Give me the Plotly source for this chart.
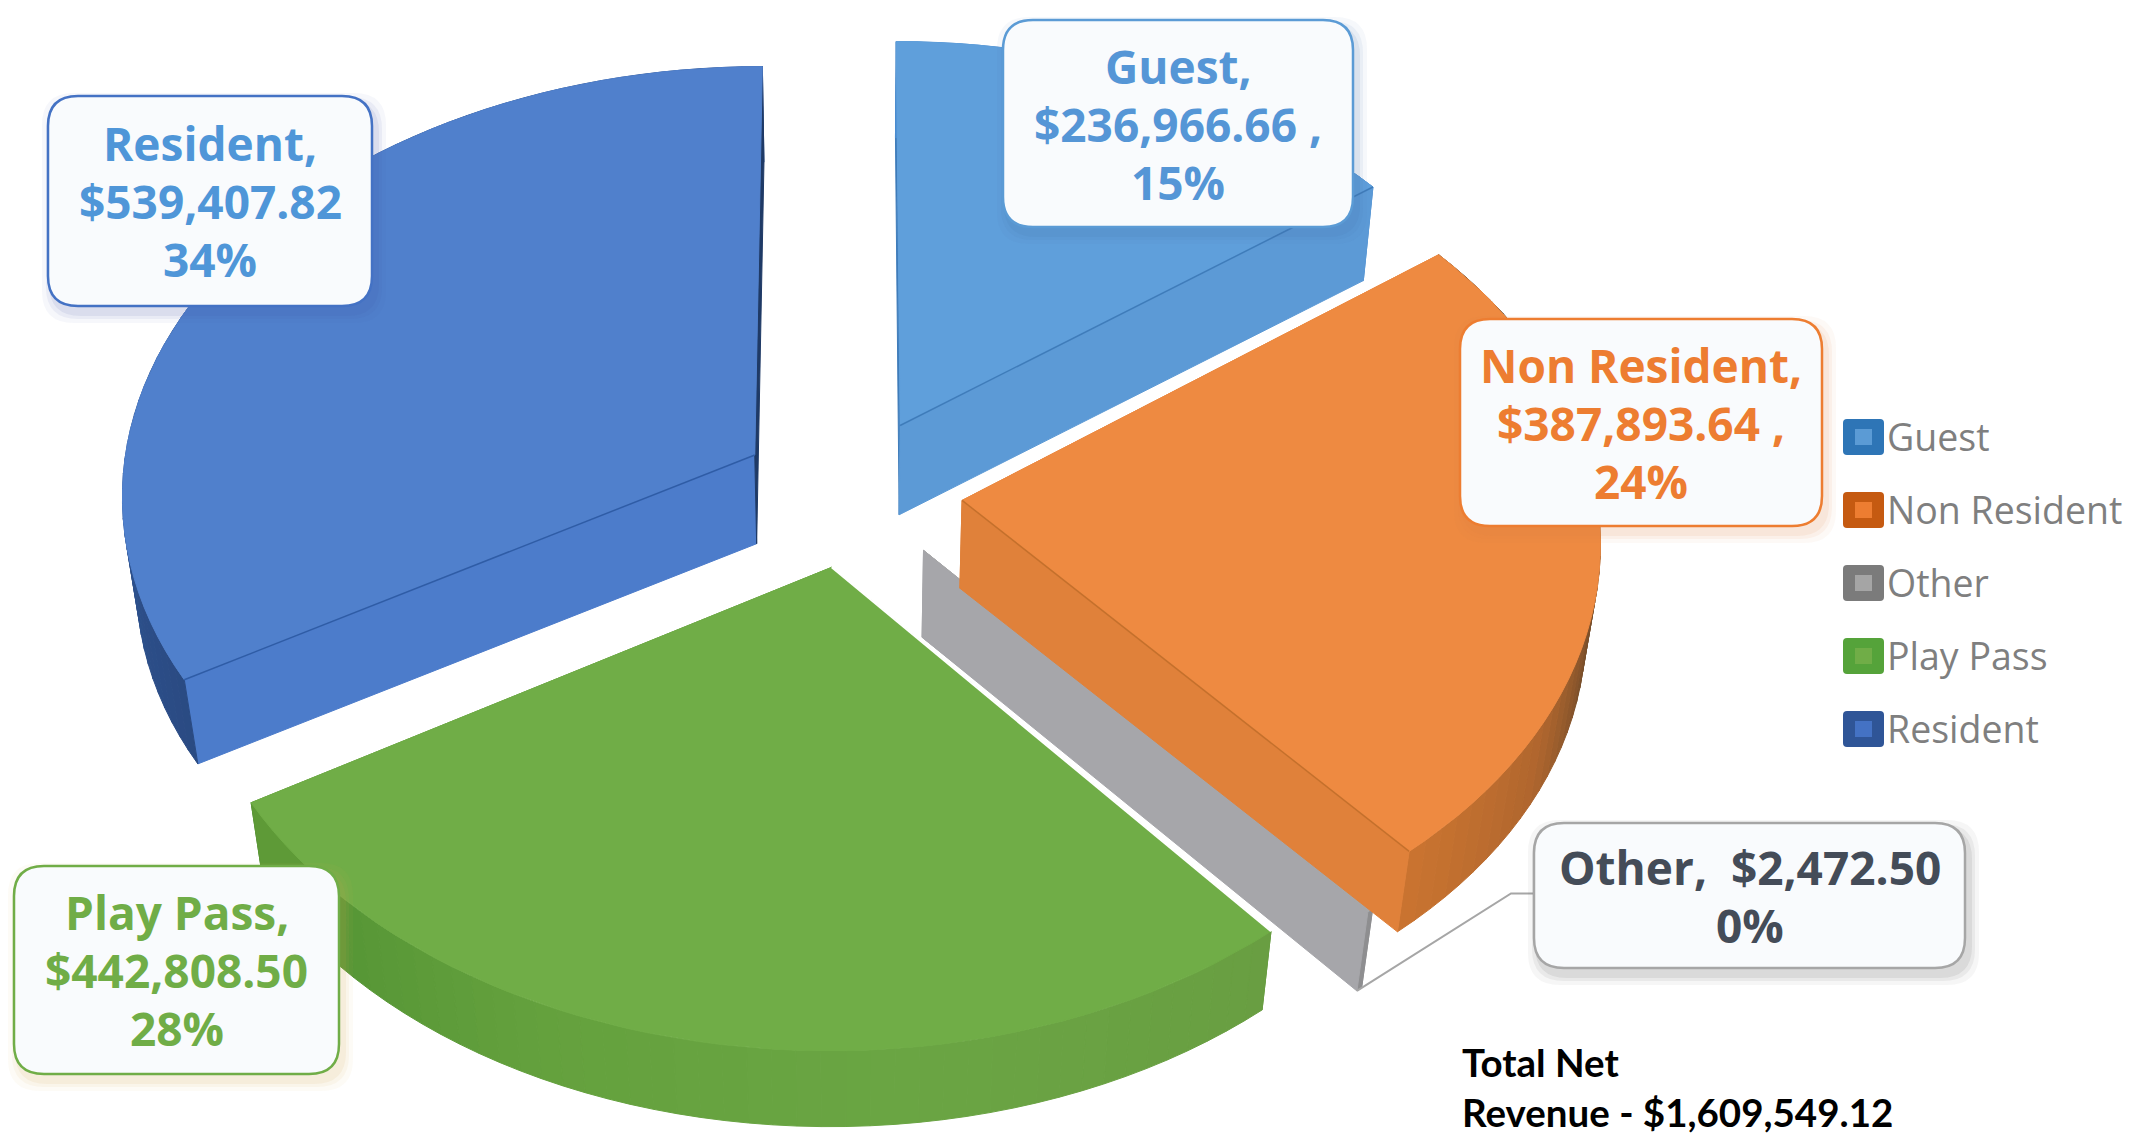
import math
import plotly.graph_objects as go

# ---- data ----
categories = ["Guest", "Non Resident", "Other", "Play Pass", "Resident"]
revenue = [236966.66, 387893.64, 2472.50, 442808.50, 539407.82]
total_caption = ["Total Net", "Revenue - $1,609,549.12"]

# ---- colours per category ----
top_colors = ["#5F9FDB", "#EE8A41", "#A7A7A9", "#70AD47", "#5080CC"]
face_colors = ["#5C9AD6", "#E0813A", "#A6A6AA", "#5E9A37", "#4C7CCB"]
fold_colors = ["#3F7CBA", "#C4702C", "#909090", "#5E9A37", "#2F5CA6"]
text_colors = ["#5596D6", "#ED7D31", "#444C58", "#70AD47", "#4F96D8"]
edge_colors = ["#5B9BD5", "#ED7D31", "#A6A6A6", "#70AD47", "#4472C4"]
shadow_rgb = ["70,110,170", "220,130,70", "70,70,70", "215,170,80", "70,90,170"]
swatch_outer = ["#2E75B6", "#C55A11", "#7B7B7B", "#55A33A", "#2F5597"]
swatch_inner = ["#5B9BD5", "#ED7D31", "#A5A5A5", "#70AD47", "#4472C4"]
# (angle, colour) stops along each slice's rim
rim_stops = [
    [(0, "#4A8CD0"), (60, "#4A8CD0")],
    [(80, "#4F3A25"), (105, "#7A4F2A"), (120, "#B0662E"), (141, "#CC7530")],
    [(139, "#8E8E90"), (141, "#8E8E90")],
    [(139, "#699E42"), (175, "#6AA543"), (205, "#64A13D"), (228, "#559535"), (240, "#3E7C2A")],
    [(238, "#2A4A82"), (270, "#2E5390"), (360, "#2E5390")],
]

# ---- projection of the tilted, exploded disc into page pixels ----
PAGE_W, PAGE_H = 2153, 1140
CX, CY = 851, 492
SCALE_X, SCALE_Y = 634, 428
TILT = 0.0863
PULL = 0.176
THICK = 88
SHRINK = 0.02


def project(x, y, z=0.0):
    w = 1 + TILT * y + SHRINK * z
    return CX + SCALE_X * x / w, CY - SCALE_Y * y / w + THICK * z


def rim_point(angle, offset, z=0.0):
    r = math.radians(angle)
    return project(offset[0] + math.sin(r), offset[1] + math.cos(r), z)


def hex_rgb(c):
    return tuple(int(c[i:i + 2], 16) for i in (1, 3, 5))


def rim_color(stops, a):
    if a <= stops[0][0]:
        return stops[0][1]
    for (a0, c0), (a1, c1) in zip(stops, stops[1:]):
        if a <= a1:
            t = (a - a0) / (a1 - a0)
            rgb = [round(p + (q - p) * t) for p, q in zip(hex_rgb(c0), hex_rgb(c1))]
            return "rgb({},{},{})".format(*rgb)
    return stops[-1][1]


fig = go.Figure()


def polygon(points, color, name, line=None):
    fig.add_trace(go.Scatter(
        x=[p[0] for p in points] + [points[0][0]],
        y=[p[1] for p in points] + [points[0][1]],
        mode="lines", fill="toself", fillcolor=color,
        line=dict(color=line or color, width=1),
        hoverinfo="skip", showlegend=False, name=name,
    ))


def stroke(points, color, width, name):
    fig.add_trace(go.Scatter(
        x=[p[0] for p in points], y=[p[1] for p in points],
        mode="lines", line=dict(color=color, width=width),
        hoverinfo="skip", showlegend=False, name=name,
    ))


total = sum(revenue)
spans = []
cum = 0.0
for v in revenue:
    start = cum / total * 360
    cum += v
    spans.append((start, cum / total * 360))


def slice_offset(i):
    mid = math.radians(sum(spans[i]) / 2)
    return PULL * math.sin(mid), PULL * math.cos(mid)


def draw_slice(i):
    a0, a1 = spans[i]
    off = slice_offset(i)
    name = categories[i]
    steps = max(2, int((a1 - a0) / 2))
    angles = [a0 + (a1 - a0) * k / steps for k in range(steps + 1)]
    apex_t, apex_b = project(off[0], off[1]), project(off[0], off[1], 1)

    # cut face at the start of the slice
    polygon([apex_t, rim_point(a0, off), rim_point(a0, off, 1), apex_b],
            fold_colors[i] if i == 0 else face_colors[i], name + " face")

    # rim wall, cut into short strips so its shade can follow the angle
    for p, q in zip(angles, angles[1:]):
        polygon([rim_point(p, off), rim_point(q, off), rim_point(q, off, 1), rim_point(p, off, 1)],
                rim_color(rim_stops[i], (p + q) / 2), name + " rim")

    # cut face at the end of the slice
    polygon([apex_t, rim_point(a1, off), rim_point(a1, off, 1), apex_b],
            "#1F3A66" if i == 4 else face_colors[i], name + " face")

    # top of the slice
    polygon([apex_t] + [rim_point(a, off) for a in angles], top_colors[i], name)

    # crease along the edge facing the viewer
    if i in (0, 1, 4):
        edge = a0 if i == 4 else a1
        stroke([apex_t, rim_point(edge, off)], fold_colors[i], 1.5, name + " crease")
    if i == 3:
        stroke([apex_t, rim_point(a0, off)], "#FFFFFF", 2, name + " edge")


# painted far to near so nearer slices overlap the others
for idx in (0, 4, 2, 1, 3):
    draw_slice(idx)

# ---- data labels ----
pct = [round(v / total * 100) for v in revenue]
label_lines = [
    [f"{categories[0]},", f"${revenue[0]:,.2f} ,", f"{pct[0]}%"],
    [f"{categories[1]},", f"${revenue[1]:,.2f} ,", f"{pct[1]}%"],
    [f"{categories[2]},  ${revenue[2]:,.2f}", f"{pct[2]}%"],
    [f"{categories[3]},", f"${revenue[3]:,.2f}", f"{pct[3]}%"],
    [f"{categories[4]},", f"${revenue[4]:,.2f}", f"{pct[4]}%"],
]
label_boxes = [
    (1003, 20, 1353, 227),
    (1460, 319, 1822, 526),
    (1534, 823, 1965, 968),
    (14, 866, 339, 1074),
    (48, 96, 372, 306),
]
LABEL_FONT = "Open Sans"
LABEL_SIZE = 46
LABEL_PITCH = 58


def rounded(x0, y0, x1, y1, r):
    return (f"M{x0 + r},{y0} L{x1 - r},{y0} Q{x1},{y0} {x1},{y0 + r} "
            f"L{x1},{y1 - r} Q{x1},{y1} {x1 - r},{y1} L{x0 + r},{y1} "
            f"Q{x0},{y1} {x0},{y1 - r} L{x0},{y0 + r} Q{x0},{y0} {x0 + r},{y0} Z")


shapes = []
annotations = []

# leader line from the Other label to its slice
other_tip = rim_point(spans[2][1], slice_offset(2), 1)
box = label_boxes[2]
leader_y = (box[1] + box[3]) / 2 - 2
stroke([(box[0], leader_y), (box[0] - 23, leader_y), other_tip], "#A6A6A6", 2, "Other leader")

for i, (x0, y0, x1, y1) in enumerate(label_boxes):
    for grow, alpha in ((10, 0.05), (6, 0.07), (3, 0.09)):
        shapes.append(dict(type="path", path=rounded(x0 - grow + 4, y0 - grow + 7, x1 + grow + 4, y1 + grow + 7, 32),
                           fillcolor=f"rgba({shadow_rgb[i]},{alpha})", line=dict(width=0), layer="above"))
    shapes.append(dict(type="path", path=rounded(x0, y0, x1, y1, 30), fillcolor="#F9FBFD",
                       line=dict(color=edge_colors[i], width=2.5), layer="above"))
    lines = label_lines[i]
    for n, line in enumerate(lines):
        y = (y0 + y1) / 2 + (n - (len(lines) - 1) / 2) * LABEL_PITCH
        annotations.append(dict(x=(x0 + x1) / 2, y=y, xref="x", yref="y", text=line,
                                showarrow=False, align="center", xanchor="center", yanchor="middle",
                                font=dict(family=LABEL_FONT, size=LABEL_SIZE, color=text_colors[i], weight=700)))

# ---- legend ----
LEG_X0, LEG_Y0, LEG_W, LEG_H, LEG_STEP = 1843, 419, 41, 36, 73
for i, name in enumerate(categories):
    y = LEG_Y0 + i * LEG_STEP
    shapes.append(dict(type="path", path=rounded(LEG_X0, y, LEG_X0 + LEG_W, y + LEG_H, 4),
                       fillcolor=swatch_outer[i], line=dict(width=0), layer="above"))
    shapes.append(dict(type="rect", x0=LEG_X0 + 12, x1=LEG_X0 + LEG_W - 12, y0=y + 10, y1=y + LEG_H - 10,
                       fillcolor=swatch_inner[i], line=dict(width=0), layer="above"))
    annotations.append(dict(x=LEG_X0 + LEG_W + 1, y=y + LEG_H / 2 - 1, xref="x", yref="y", text=name,
                            showarrow=False, xanchor="left", yanchor="middle",
                            font=dict(family="Open Sans", size=37.5, color="#7F7F7F")))

# ---- caption ----
for line, y in zip(total_caption, (1062, 1112)):
    annotations.append(dict(x=1460, y=y, xref="x", yref="y", text=line, showarrow=False,
                            xanchor="left", yanchor="middle",
                            font=dict(family="Lato", size=38.5, color="#000000", weight=700)))

fig.update_layout(
    width=PAGE_W, height=PAGE_H,
    margin=dict(l=0, r=0, t=0, b=0),
    paper_bgcolor="#FFFFFF", plot_bgcolor="#FFFFFF",
    xaxis=dict(range=[0, PAGE_W], visible=False, fixedrange=True),
    yaxis=dict(range=[PAGE_H, 0], visible=False, fixedrange=True),
    showlegend=False,
    shapes=shapes,
    annotations=annotations,
)
fig.write_html("out.html")
